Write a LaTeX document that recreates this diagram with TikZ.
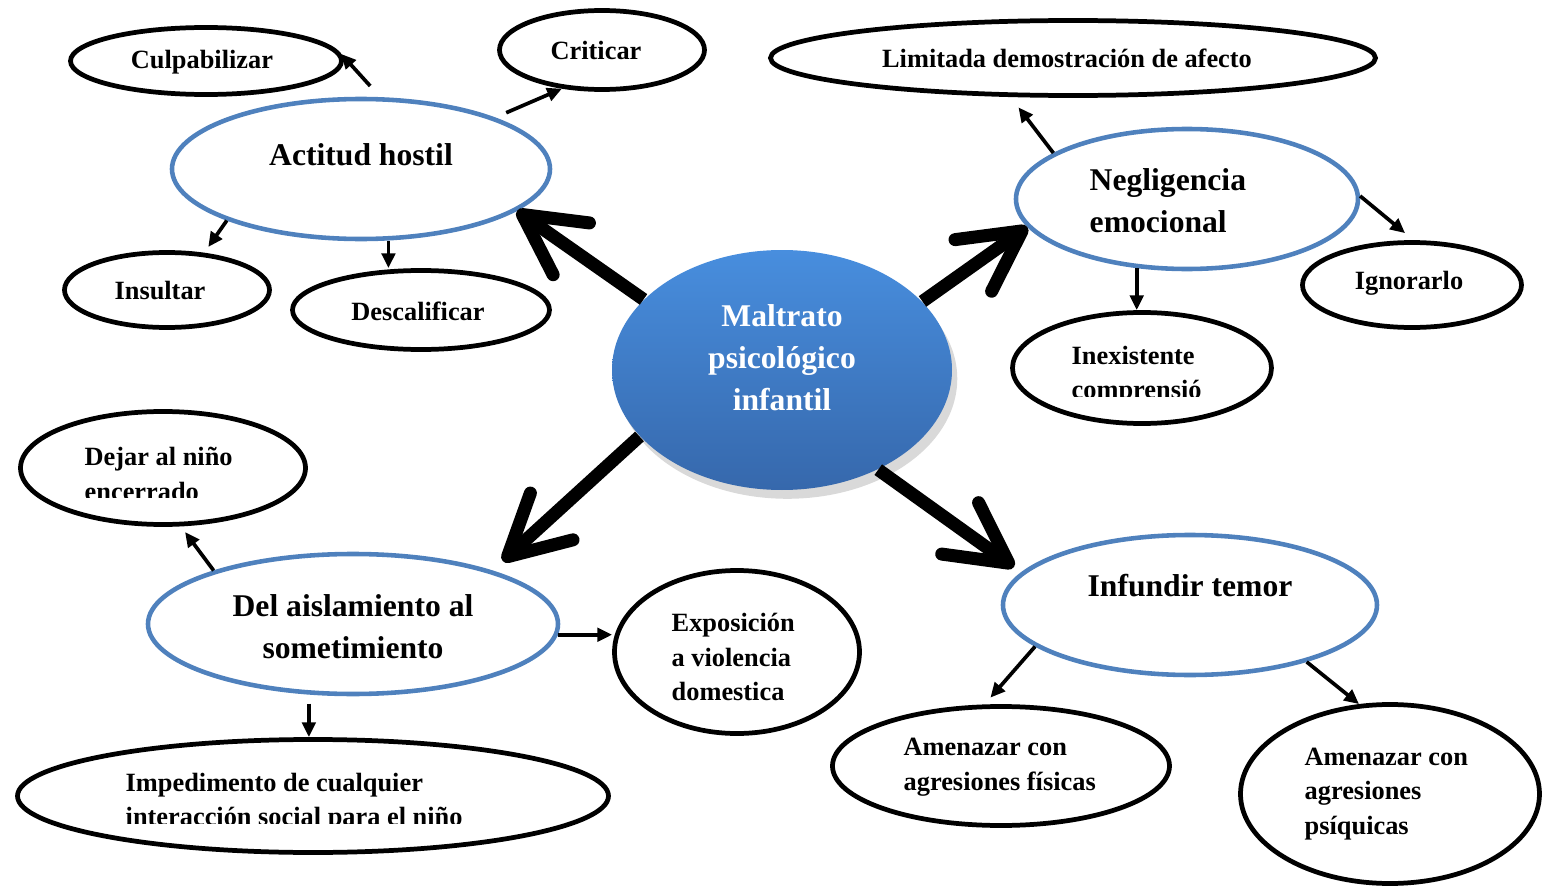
\documentclass[tikz,border=0pt]{standalone}
\usepackage{fontspec}
\setmainfont{Liberation Serif}
\usepackage{tikz}
\usetikzlibrary{positioning}
\usetikzlibrary{shapes.geometric,arrows.meta,shadows}
\definecolor{ellBlue}{RGB}{79,129,189}
\definecolor{ballTop}{RGB}{72,142,222}
\definecolor{ballBottom}{RGB}{54,104,172}
\tikzset{
	blueEll/.style={ellipse, draw=ellBlue, line width=1.3pt, fill=white, inner sep=0pt},
	blackEll/.style={ellipse, draw=black, line width=1.35pt, fill=white, inner sep=0pt},
	smallTxt/.style={font=\bfseries\fontsize{7.5pt}{9.8pt}\selectfont, align=left, inner sep=0pt},
	bigTxt/.style={font=\bfseries\fontsize{9pt}{12pt}\selectfont, align=center, inner sep=0pt},
	smallArrow/.style={-{Triangle[length=4.2pt,width=3.8pt]}, line width=1.05pt},
	bigArrow/.style={-{Straight Barb[length=17pt,width=18pt,line cap=round,line join=round]}, line width=3.7pt}
}
\begin{document}
\begin{tikzpicture}
	\useasboundingbox (0,0) rectangle (15.46,-8.89);
	% ellipses
	\node[blackEll, minimum width=2.71cm, minimum height=0.67cm] (cul) at (2.06,-0.61) {};
	\node[blackEll, minimum width=2.05cm, minimum height=0.79cm] (cri) at (6.02,-0.50) {};
	\node[blueEll, minimum width=3.78cm, minimum height=1.40cm] (ah) at (3.61,-1.69) {};
	\node[blackEll, minimum width=2.05cm, minimum height=0.75cm] (ins) at (1.67,-2.90) {};
	\node[blackEll, minimum width=2.57cm, minimum height=0.79cm] (dsc) at (4.21,-3.10) {};
	\node[blackEll, minimum width=6.05cm, minimum height=0.75cm] (lim) at (10.73,-0.58) {};
	\node[blueEll, minimum width=3.42cm, minimum height=1.40cm] (neg) at (11.87,-1.99) {};
	\node[blackEll, minimum width=2.19cm, minimum height=0.85cm] (ign) at (14.12,-2.85) {};
	\node[blackEll, minimum width=2.59cm, minimum height=1.11cm] (inx) at (11.42,-3.68) {};
	\node[ellipse, minimum width=3.40cm, minimum height=2.40cm, top color=ballTop, bottom color=ballBottom,
		drop shadow={shadow xshift=1.5pt, shadow yshift=-2.5pt, opacity=0.3}] (mal) at (7.82,-3.70) {};
	\node[blackEll, minimum width=2.85cm, minimum height=1.13cm] (dej) at (1.63,-4.68) {};
	\node[blueEll, minimum width=4.10cm, minimum height=1.40cm] (del) at (3.53,-6.24) {};
	\node[blackEll, minimum width=2.45cm, minimum height=1.63cm] (exp) at (7.37,-6.52) {};
	\node[blackEll, minimum width=5.91cm, minimum height=1.13cm] (imp) at (3.13,-7.96) {};
	\node[blueEll, minimum width=3.74cm, minimum height=1.40cm] (inf) at (11.90,-6.05) {};
	\node[blackEll, minimum width=3.37cm, minimum height=1.19cm] (amf) at (10.01,-7.66) {};
	\node[blackEll, minimum width=2.99cm, minimum height=1.79cm] (amp) at (13.90,-7.94) {};
	% texts
	\node[smallTxt] (cul-t) at (2.02,-0.62) {Culpabilizar};
	\node[smallTxt] (cri-t) at (5.96,-0.50) {Criticar};
	\node[bigTxt] (ah-t) at (3.61,-1.55) {Actitud hostil};
	\node[smallTxt] (ins-t) at (1.60,-2.91) {Insultar};
	\node[smallTxt] (dsc-t) at (4.18,-3.11) {Descalificar};
	\node[smallTxt] (lim-t) at (10.67,-0.58) {Limitada demostración de afecto};
	\node[bigTxt, align=left, anchor=west] (neg-t) at (10.89,-2.01) {Negligencia\\emocional};
	\node[smallTxt] (ign-t) at (14.09,-2.83) {Ignorarlo};
	\begin{scope}
		\clip (10.5,-3.2) rectangle (12.8,-3.96);
		\node[smallTxt, anchor=west] (inx-t) at (10.71,-3.75) {Inexistente\\comprensió};
	\end{scope}
	\node[bigTxt, text=white] (mal-t) at (7.82,-3.58) {Maltrato\\psicológico\\infantil};
	\begin{scope}
		\clip (0.5,-4.2) rectangle (2.9,-4.97);
		\node[smallTxt, anchor=west] (dej-t) at (0.84,-4.74) {Dejar al niño\\encerrado};
	\end{scope}
	\node[bigTxt] (del-t) at (3.53,-6.27) {Del aislamiento al\\sometimiento};
	\node[smallTxt, anchor=west] (exp-t) at (6.71,-6.57) {Exposición\\a violencia\\domestica};
	\begin{scope}
		\clip (1.0,-7.5) rectangle (5.5,-8.23);
		\node[smallTxt, anchor=west] (imp-t) at (1.25,-8.02) {Impedimento de cualquier\\interacción social para el niño};
	\end{scope}
	\node[bigTxt] (inf-t) at (11.90,-5.86) {Infundir temor};
	\node[smallTxt, anchor=west] (amf-t) at (9.03,-7.67) {Amenazar con\\agresiones físicas};
	\node[smallTxt, anchor=west] (amp-t) at (13.04,-7.94) {Amenazar con\\agresiones\\psíquicas};
	% small arrows
	\draw[smallArrow, shorten <=0.15cm] (ah.75) -- (cul.3);
	\draw[smallArrow, shorten <=0.12cm] (ah.21.5) -- (cri.224);
	\draw[smallArrow, shorten >=0.07cm] (ah.201) -- (ins.45);
	\draw[smallArrow] (ah.291.5) -- (ah.291.5 |- dsc.north);
	\draw[smallArrow, shorten >=0.13cm] (neg.161) -- (lim.212.6);
	\draw[smallArrow, shorten >=0.11cm] (neg.1) -- (ign.88);
	\draw[smallArrow] (neg.234) -- (neg.234 |- inx.north);
	\draw[smallArrow, shorten >=0.07cm] (del.159.3) -- (dej.287);
	\draw[smallArrow] (del.-3.4) -- (del.-3.4 -| exp.west);
	\draw[smallArrow, shorten <=0.09cm] (del.238.6) -- (del.238.6 |- imp.north);
	\draw[smallArrow, shorten >=0.09cm] (inf.195.9) -- (amf.105.4);
	\draw[smallArrow] (inf.334.2) -- (amp.109.6);
	% big arrows
	\draw[bigArrow] (mal.153.7) -- (ah.345);
	\draw[bigArrow] (mal.26.3) -- (neg.190);
	\draw[bigArrow, shorten >=0.14cm] (mal.205.6) -- (del.21.7);
	\draw[bigArrow, shorten >=0.09cm] (mal.314.4) -- (inf.169);
\end{tikzpicture}
\end{document}
